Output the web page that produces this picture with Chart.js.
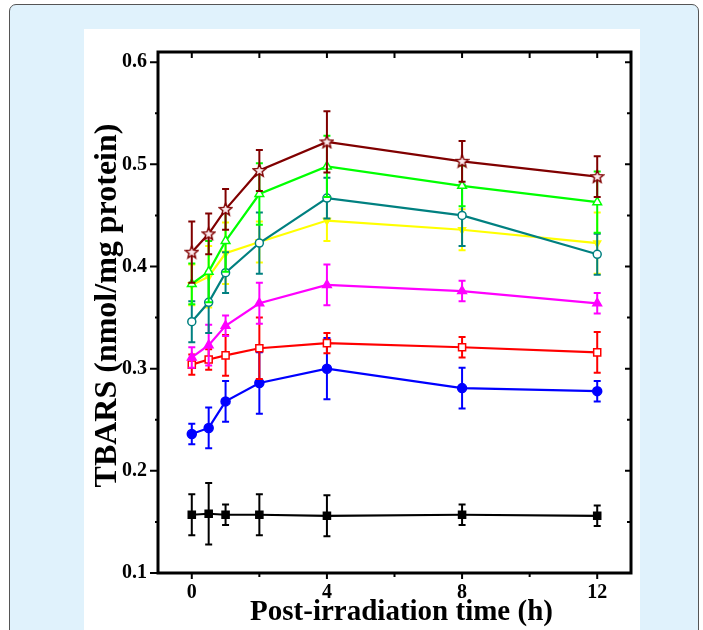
<!DOCTYPE html>
<html>
<head>
<meta charset="utf-8">
<script src="https://cdn.jsdelivr.net/npm/chart.js@4.4.1/dist/chart.umd.min.js"></script>
<style>
  html, body { margin: 0; padding: 0; background: #ffffff; }
  body { width: 703px; height: 630px; position: relative; overflow: hidden; }
  #frame {
    position: absolute; left: 9px; top: 4px; width: 688px; height: 660px;
    background: #e0f2fc; border: 1.5px solid #555; border-radius: 7px;
  }
  #panel {
    position: absolute; left: 84px; top: 29px; width: 556px; height: 601px;
    background: #ffffff;
  }
  #chart { display: block; }
</style>
</head>
<body>
<div id="frame"></div>
<div id="panel"><canvas id="chart" width="556" height="601"></canvas></div>
<script>
// Sampling times after irradiation (h)
const times = [0, 0.5, 1, 2, 4, 8, 12];

// TBARS means and SD for each group
const seriesControl = [0.157, 0.158, 0.157, 0.157, 0.156, 0.157, 0.156];
const errControl    = [0.020, 0.030, 0.010, 0.020, 0.020, 0.010, 0.010];
const seriesBlue    = [0.236, 0.242, 0.268, 0.286, 0.300, 0.281, 0.278];
const errBlue       = [0.010, 0.020, 0.020, 0.030, 0.030, 0.020, 0.010];
const seriesRed     = [0.304, 0.309, 0.313, 0.320, 0.325, 0.321, 0.316];
const errRed        = [0.010, 0.010, 0.020, 0.030, 0.010, 0.010, 0.020];
const seriesMagenta = [0.311, 0.323, 0.342, 0.364, 0.382, 0.376, 0.364];
const errMagenta    = [0.010, 0.020, 0.010, 0.020, 0.020, 0.010, 0.010];
const seriesYellow  = [0.382, 0.390, 0.413, 0.424, 0.445, 0.436, 0.423];
const errYellow     = [0.020, 0.030, 0.030, 0.020, 0.020, 0.020, 0.030];
const seriesTeal    = [0.346, 0.365, 0.394, 0.423, 0.467, 0.450, 0.412];
const errTeal       = [0.020, 0.030, 0.020, 0.030, 0.020, 0.030, 0.020];
const seriesGreen   = [0.383, 0.395, 0.425, 0.471, 0.498, 0.479, 0.463];
const errGreen      = [0.020, 0.030, 0.030, 0.030, 0.030, 0.020, 0.030];
const seriesMaroon  = [0.414, 0.432, 0.456, 0.494, 0.522, 0.503, 0.488];
const errMaroon     = [0.030, 0.020, 0.020, 0.020, 0.030, 0.020, 0.020];

// Axis ticks and titles
const xTickValues = [0, 2, 4, 6, 8, 10, 12];
const xTickLabels = [0, 4, 8, 12];
const yTickValues = [0.1, 0.15, 0.2, 0.25, 0.3, 0.35, 0.4, 0.45, 0.5, 0.55, 0.6];
const yTickLabels = [0.1, 0.2, 0.3, 0.4, 0.5, 0.6];
const xTitle = 'Post-irradiation time (h)';
const yTitle = 'TBARS (nmol/mg protein)';

const FONT = '"Liberation Serif", "Times New Roman", serif';

// Open five-point star marker
function starMarker(color) {
  const c = document.createElement('canvas');
  c.width = 15; c.height = 15;
  const g = c.getContext('2d');
  const cx = 7.5, cy = 7.8, R = 6.6, r = 2.9;
  g.beginPath();
  for (let i = 0; i < 10; i++) {
    const rad = i % 2 === 0 ? R : r;
    const a = -Math.PI / 2 + i * Math.PI / 5;
    const px = cx + rad * Math.cos(a), py = cy + rad * Math.sin(a);
    if (i === 0) g.moveTo(px, py); else g.lineTo(px, py);
  }
  g.closePath();
  g.fillStyle = '#fbe9ec';
  g.fill();
  g.strokeStyle = color;
  g.lineWidth = 1.4;
  g.stroke();
  return c;
}

function pts(vals) { return times.map((t, i) => ({ x: t, y: vals[i] })); }

function series(vals, errs, color, style, fill, radius, extra) {
  return Object.assign({
    data: pts(vals),
    errors: errs,
    borderColor: color,
    backgroundColor: color,
    borderWidth: 2.2,
    pointStyle: style,
    pointRadius: radius,
    pointBackgroundColor: fill,
    pointBorderColor: color,
    pointBorderWidth: 1.5,
    tension: 0,
    fill: false
  }, extra || {});
}

// Vertical error bars with caps, drawn under each series' own line
const errorBars = {
  id: 'errorBars',
  beforeDatasetDraw(chart, args) {
    const ds = chart.data.datasets[args.index];
    if (!ds.errors) return;
    const ctx = chart.ctx;
    const y = chart.scales.y;
    ctx.save();
    ctx.strokeStyle = ds.borderColor;
    ctx.lineWidth = 2;
    args.meta.data.forEach((el, i) => {
      const v = ds.data[i].y, e = ds.errors[i];
      const top = y.getPixelForValue(v + e);
      const bot = y.getPixelForValue(v - e);
      const px = el.x;
      ctx.beginPath();
      ctx.moveTo(px, top); ctx.lineTo(px, bot);
      ctx.moveTo(px - 3.5, top); ctx.lineTo(px + 3.5, top);
      ctx.moveTo(px - 3.5, bot); ctx.lineTo(px + 3.5, bot);
      ctx.stroke();
    });
    ctx.restore();
  }
};

// Box frame with outward ticks on left/bottom and inward ticks on top/right,
// then the axis titles and the time labels under the bottom axis
const frameTicks = {
  id: 'frameTicks',
  afterDraw(chart) {
    const { ctx, chartArea: a, scales: { x, y } } = chart;
    ctx.save();
    ctx.strokeStyle = '#000';
    ctx.lineWidth = 2;
    ctx.beginPath();
    xTickValues.forEach(v => {
      const px = x.getPixelForValue(v);
      const major = xTickLabels.includes(v);
      ctx.moveTo(px, a.bottom); ctx.lineTo(px, a.bottom + (major ? 6 : 4));
      ctx.moveTo(px, a.top); ctx.lineTo(px, a.top + 6);
    });
    yTickValues.forEach(v => {
      const py = y.getPixelForValue(v);
      const major = yTickLabels.some(t => Math.abs(t - v) < 1e-9);
      ctx.moveTo(a.left - (major ? 8 : 3), py); ctx.lineTo(a.left, py);
      ctx.moveTo(a.right - (major ? 6 : 4), py); ctx.lineTo(a.right, py);
    });
    ctx.stroke();
    ctx.lineWidth = 3;
    ctx.strokeRect(a.left, a.top, a.right - a.left, a.bottom - a.top);

    ctx.fillStyle = '#000';
    ctx.textAlign = 'center';
    ctx.textBaseline = 'alphabetic';
    ctx.font = 'bold 29px ' + FONT;
    ctx.fillText(xTitle, (a.left + a.right) / 2 + 7, a.bottom + 47);
    ctx.font = 'bold 20px ' + FONT;
    xTickLabels.forEach(v => {
      ctx.fillText(String(v), x.getPixelForValue(v), a.bottom + 25);
    });

    ctx.translate(24, (a.top + a.bottom) / 2 - 7);
    ctx.rotate(-Math.PI / 2);
    ctx.textBaseline = 'middle';
    ctx.font = 'bold 32px ' + FONT;
    ctx.fillText(yTitle, 0, 0);
    ctx.restore();
  }
};

new Chart(document.getElementById('chart'), {
  type: 'line',
  data: {
    datasets: [
      series(seriesMaroon,  errMaroon,  '#800000', starMarker('#800000'), '#fbe9ec', 7),
      series(seriesGreen,   errGreen,   '#00ff00', 'triangle', '#ffffff', 5),
      series(seriesTeal,    errTeal,    '#008080', 'circle', '#ffffff', 4),
      series(seriesYellow,  errYellow,  '#ffff00', 'triangle', '#ffff00', 4, { pointRotation: 180 }),
      series(seriesMagenta, errMagenta, '#ff00ff', 'triangle', '#ff00ff', 5),
      series(seriesRed,     errRed,     '#ff0000', 'rect', '#ffffff', 5),
      series(seriesBlue,    errBlue,    '#0000ff', 'circle', '#0000ff', 4.5),
      series(seriesControl, errControl, '#000000', 'rect', '#000000', 5)
    ]
  },
  options: {
    responsive: false,
    animation: false,
    events: [],
    layout: { padding: { top: 12, right: 9, left: 0, bottom: 0 } },
    plugins: { legend: { display: false }, tooltip: { enabled: false } },
    scales: {
      x: {
        type: 'linear',
        min: -1, max: 13,
        grid: { display: false, drawTicks: false },
        border: { display: false },
        afterBuildTicks: s => { s.ticks = xTickLabels.map(v => ({ value: v })); },
        afterFit: s => { s.height = 57; },
        ticks: { display: false },
        title: { display: false }
      },
      y: {
        type: 'linear',
        min: 0.1, max: 0.61,
        grid: { display: false, drawTicks: false },
        border: { display: false },
        afterBuildTicks: s => { s.ticks = yTickLabels.map(v => ({ value: v })); },
        afterFit: s => { s.width = 74; },
        ticks: {
          color: '#000', padding: 11, autoSkip: false,
          font: { family: FONT, size: 20, weight: 'bold' },
          callback: v => v.toFixed(1)
        },
        title: { display: false }
      }
    }
  },
  plugins: [errorBars, frameTicks]
});
</script>
</body>
</html>
